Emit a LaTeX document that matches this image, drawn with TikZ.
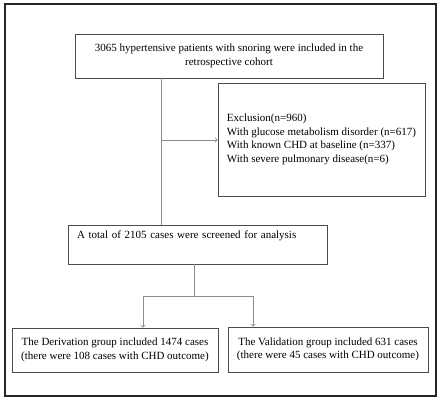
\documentclass[tikz,border=0pt]{standalone}
\usepackage{fontspec}
\setmainfont{Liberation Serif}
\usetikzlibrary{shadows}

\begin{document}
\begin{tikzpicture}[x=1pt, y=-1pt,
		box/.style={draw=black!70, line width=0.7pt, fill=white, inner xsep=6pt, inner ysep=4pt,
			font=\fontsize{11}{13.5}\selectfont,
			drop shadow={shadow xshift=0.9pt, shadow yshift=-0.9pt, fill=black!40, opacity=0.8}},
		link/.style={draw=black!45, line width=0.8pt}]
		\useasboundingbox (0, 0) rectangle (443, 402);
		\draw [line width=1.2pt, black!85] (5, 4) rectangle (436, 396);

		\node [box, minimum width=308, minimum height=44, align=center] (cohort) at (229, 56)
			{3065 hypertensive patients with snoring were included in the\\retrospective cohort};
		\node [box, minimum width=207, minimum height=113, align=left] (excl) at (321.5, 139.5)
			{Exclusion(n=960)\\With glucose metabolism disorder (n=617)\\With known CHD at baseline (n=337)\\With severe pulmonary disease(n=6)};
		\node [box, inner xsep=9pt, text width=241, text height=9pt, text depth=22pt, align=left] (screened) at (197.5, 244.5)
			{A total of 2105 cases were screened for analysis};
		\node [box, minimum width=206, minimum height=44, align=center] (derive) at (115, 350)
			{The Derivation group included 1474 cases\\(there were 108 cases with CHD outcome)};
		\node [box, minimum width=200, minimum height=45, align=center] (valid) at (328, 349.5)
			{The Validation group included 631 cases\\(there were 45 cases with CHD outcome)};

		\coordinate (split) at (161, 140);
		\coordinate (fork) at (194, 296);
		\coordinate (forkL) at (143, 296);
		\coordinate (forkR) at (253, 296);

		\draw [link] (cohort.south -| split) -- (screened.north -| split);
		\draw [link, ->] (split) -- (split -| excl.west);
		\draw [link] (screened.south -| fork) -- (fork);
		\draw [link] (forkL) -- (forkR);
		\draw [link, ->] (forkL) -- (derive.north -| forkL);
		\draw [link, ->] (forkR) -- (valid.north -| forkR);
	\end{tikzpicture}
\end{document}
